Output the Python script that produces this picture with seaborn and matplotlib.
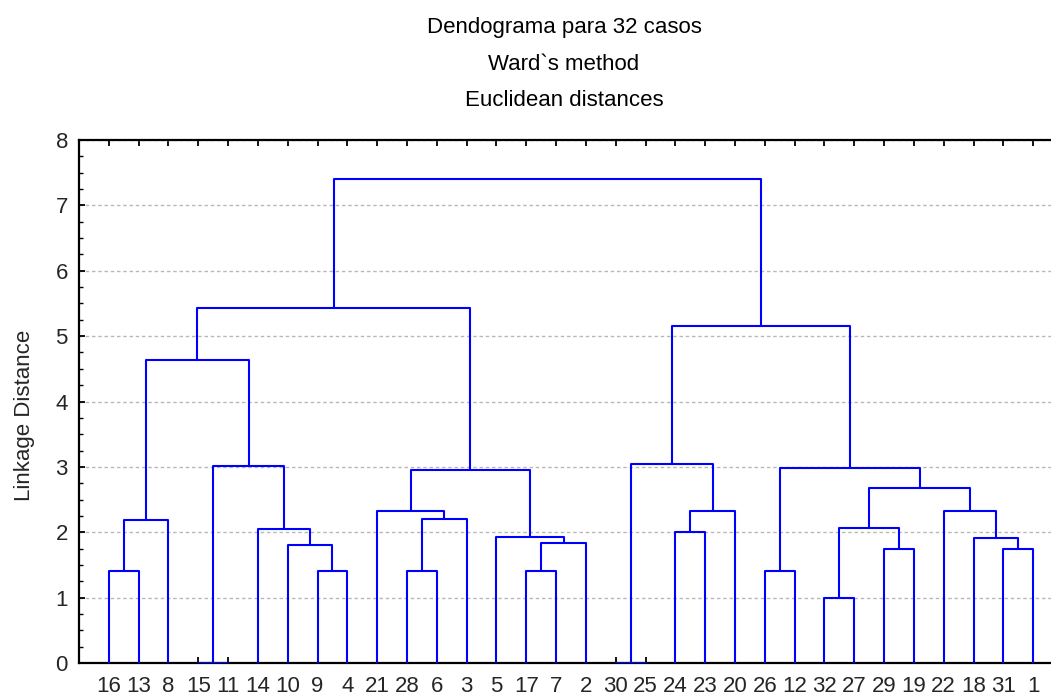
import matplotlib
matplotlib.use("Agg")
import matplotlib.pyplot as plt
import seaborn as sns
import pandas as pd
from matplotlib.ticker import MultipleLocator, FixedLocator

# ---- data ----
leaf_order = [16, 13, 8, 15, 11, 14, 10, 9, 4, 21, 28, 6, 3, 5, 17, 7, 2,
              30, 25, 24, 23, 20, 26, 12, 32, 27, 29, 19, 22, 18, 31, 1]
# each merge joins two members: an int is a case, "nK" is merge number K
merge_left = [16, "n0", 15, 9, 10, 14, "n2", "n1", 28, "n8", 21, 17, "n11", 5, "n10", "n7",
              30, 24, "n17", "n16", 26, 32, 29, "n21", 31, 18, 22, "n23", "n20", "n19", "n15"]
merge_right = [13, 8, 11, 4, "n3", "n4", "n5", "n6", 6, 3, "n9", 7, 2, "n12", "n13", "n14",
               25, 23, 20, "n18", 12, 27, 19, "n22", 1, "n24", "n25", "n26", "n27", "n28", "n29"]
merge_height = [1.41, 2.18, 0.0, 1.41, 1.81, 2.05, 3.01, 4.63, 1.41, 2.20, 2.32, 1.41, 1.83, 1.92, 2.95, 5.43,
                0.0, 2.00, 2.32, 3.04, 1.41, 1.00, 1.74, 2.07, 1.74, 1.91, 2.33, 2.68, 2.98, 5.15, 7.41]
y_ticks = [0, 1, 2, 3, 4, 5, 6, 7, 8]
title_lines = ["Dendograma para 32 casos", "Ward`s method", "Euclidean distances"]

# ---- compute link geometry ----
pos = {case: i + 1 for i, case in enumerate(leaf_order)}
hgt = {case: 0.0 for case in leaf_order}
rows = []
for k, (a, b, h) in enumerate(zip(merge_left, merge_right, merge_height)):
    xa, xb = pos[a], pos[b]
    ya, yb = hgt[a], hgt[b]
    for (xx, yy) in [(xa, ya), (xa, h), (xb, h), (xb, yb)]:
        rows.append({"x": xx, "y": yy, "link": k})
    pos[f"n{k}"] = (xa + xb) / 2.0
    hgt[f"n{k}"] = h
df = pd.DataFrame(rows)

# ---- plot ----
sns.set_style("white")
plt.rcParams["font.family"] = ["Liberation Sans", "DejaVu Sans"]
FS = 16
W, H = 1051, 697
fig = plt.figure(figsize=(W / 100, H / 100), dpi=100)
ax = fig.add_axes([79 / W, 34 / H, (1063 - 79) / W, (663 - 140) / H])

sns.lineplot(data=df, x="x", y="y", units="link", estimator=None, sort=False,
             color="#0000ff", linewidth=1.5, ax=ax, legend=False, zorder=3)

ax.set_xlim(0, 33)
ax.set_ylim(0, 8)
ax.set_yticks(y_ticks)
ax.set_yticklabels([str(t) for t in y_ticks])
ax.yaxis.set_minor_locator(MultipleLocator(0.25))
ax.xaxis.set_major_locator(FixedLocator(list(range(1, len(leaf_order) + 1))))
ax.set_xticklabels([str(c) for c in leaf_order])
ax.tick_params(axis="x", which="major", direction="in", length=4, width=1.3,
               top=True, bottom=True, labelsize=FS, pad=9, color="black")
ax.tick_params(axis="y", which="major", direction="in", length=4, width=1.3,
               left=True, right=False, labelsize=FS, pad=8, color="black")
ax.tick_params(axis="y", which="minor", direction="in", length=3, width=1.0,
               left=True, right=False, color="black")
ax.set_xlabel("")
ax.set_ylabel("Linkage Distance", fontsize=FS, labelpad=14)
ax.yaxis.set_label_coords(-0.0445, (663 - 415) / 523)

ax.grid(True, axis="y", which="major", color="#b8b8b8", linestyle=(0, (2.5, 2)),
        linewidth=1.0, zorder=0)
for s in ["left", "bottom", "top"]:
    ax.spines[s].set_visible(True)
    ax.spines[s].set_color("black")
    ax.spines[s].set_linewidth(1.6)
ax.spines["right"].set_visible(False)

for i, line in enumerate(title_lines):
    fig.text(564 / W, 1 - (33.5 + 36 * i) / H, line, ha="center", va="baseline",
             fontsize=FS, color="black")

fig.savefig("out.png", dpi=100)
